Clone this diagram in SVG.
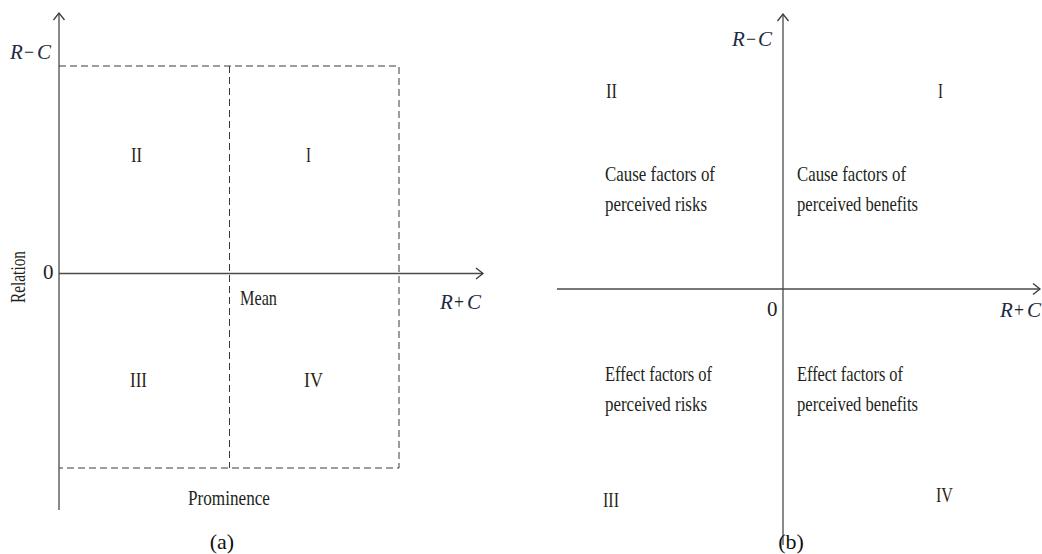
<svg xmlns="http://www.w3.org/2000/svg" width="1042" height="554" viewBox="0 0 1042 554">
<style>
.t{font-family:"Liberation Serif","Times New Roman",serif;font-size:21px;fill:#231f20}
.n{font-family:"Liberation Serif","Times New Roman",serif;font-size:21px;fill:#2b1d14}
.i{font-style:italic;fill:#1f2a44}
.cap{font-family:"Liberation Serif","Times New Roman",serif;font-size:22px;fill:#111}
.ax{stroke:#4a4a4a;stroke-width:1.3;fill:none}
.da{stroke:#3a3a3a;stroke-width:1;fill:none;stroke-dasharray:7 4}
</style>
<defs>
<marker id="arr" markerUnits="userSpaceOnUse" markerWidth="20" markerHeight="20" refX="0" refY="0" orient="auto" overflow="visible" viewBox="-10 -10 20 20">
<path d="M-7,-5.5 L0,0 L-7,5.5" fill="none" stroke="#3a3a3a" stroke-width="1.3"/>
</marker>
</defs>
<g id="connectors">
<line class="ax" x1="59" y1="510" x2="59" y2="13" marker-end="url(#arr)"/>
<line class="ax" x1="59" y1="273.5" x2="483" y2="273.5" marker-end="url(#arr)"/>
<path class="da" d="M59,66 H399 V468 H59"/>
<line class="da" x1="229.5" y1="66" x2="229.5" y2="468"/>
<line class="ax" x1="783" y1="545" x2="783" y2="14" marker-end="url(#arr)"/>
<line class="ax" x1="557" y1="289" x2="1040" y2="289" marker-end="url(#arr)"/>
</g>
<g id="panel-a">
<text class="t i" x="10" y="59">R</text>
<text class="t" x="24" y="59" textLength="10" lengthAdjust="spacingAndGlyphs">−</text>
<text class="t i" x="37" y="59">C</text>
<text class="t" x="43" y="279">0</text>
<text class="t" transform="translate(25,303) rotate(-90)" textLength="52" lengthAdjust="spacingAndGlyphs">Relation</text>
<text class="t" x="240" y="305" textLength="37" lengthAdjust="spacingAndGlyphs">Mean</text>
<text class="t i" x="440" y="309">R</text>
<text class="t" x="454" y="309" textLength="10" lengthAdjust="spacingAndGlyphs">+</text>
<text class="t i" x="467" y="309">C</text>
<text class="n" x="131" y="162" textLength="11" lengthAdjust="spacingAndGlyphs">II</text>
<text class="n" x="306" y="162" textLength="5" lengthAdjust="spacingAndGlyphs">I</text>
<text class="n" x="130" y="387" textLength="17" lengthAdjust="spacingAndGlyphs">III</text>
<text class="n" x="304" y="387" textLength="19" lengthAdjust="spacingAndGlyphs">IV</text>
<text class="t" x="188" y="505" textLength="82" lengthAdjust="spacingAndGlyphs">Prominence</text>
<text class="cap" x="222" y="549" text-anchor="middle">(a)</text>
</g>
<g id="panel-b">
<text class="t i" x="732" y="46">R</text>
<text class="t" x="746" y="46" textLength="10" lengthAdjust="spacingAndGlyphs">−</text>
<text class="t i" x="758" y="46">C</text>
<text class="n" x="606" y="98" textLength="11" lengthAdjust="spacingAndGlyphs">II</text>
<text class="n" x="938" y="98" textLength="5" lengthAdjust="spacingAndGlyphs">I</text>
<text class="t" x="605" y="181" textLength="110" lengthAdjust="spacingAndGlyphs">Cause factors of</text>
<text class="t" x="605" y="211" textLength="102" lengthAdjust="spacingAndGlyphs">perceived risks</text>
<text class="t" x="797" y="181" textLength="109" lengthAdjust="spacingAndGlyphs">Cause factors of</text>
<text class="t" x="797" y="211" textLength="121" lengthAdjust="spacingAndGlyphs">perceived benefits</text>
<text class="t" x="767" y="316">0</text>
<text class="t i" x="1000" y="317">R</text>
<text class="t" x="1014" y="317" textLength="10" lengthAdjust="spacingAndGlyphs">+</text>
<text class="t i" x="1027" y="317">C</text>
<text class="t" x="605" y="381" textLength="107" lengthAdjust="spacingAndGlyphs">Effect factors of</text>
<text class="t" x="605" y="411" textLength="102" lengthAdjust="spacingAndGlyphs">perceived risks</text>
<text class="t" x="797" y="381" textLength="106" lengthAdjust="spacingAndGlyphs">Effect factors of</text>
<text class="t" x="797" y="411" textLength="121" lengthAdjust="spacingAndGlyphs">perceived benefits</text>
<text class="n" x="603" y="507" textLength="16" lengthAdjust="spacingAndGlyphs">III</text>
<text class="n" x="936" y="502" textLength="17" lengthAdjust="spacingAndGlyphs">IV</text>
<text class="cap" x="791" y="549" text-anchor="middle">(b)</text>
</g>
</svg>
